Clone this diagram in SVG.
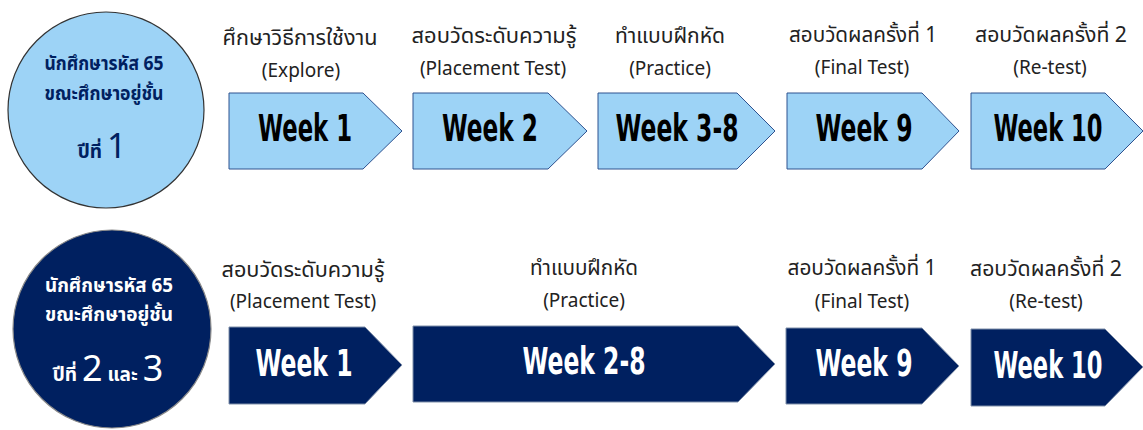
<svg xmlns="http://www.w3.org/2000/svg" width="1143" height="430" viewBox="0 0 1143 430">
<style>
.bg{fill:#ffffff}
.lt{fill:#9DD3F6;stroke:#2F528F;stroke-width:1}
.dk{fill:#002060;stroke:#7F8FA9;stroke-width:1}
.c1{fill:#9DD3F6;stroke:#333333;stroke-width:1.2}
.c2{fill:#002060;stroke:#8A8A8A;stroke-width:1.2}
.wk{font-family:"Liberation Sans Narrow","DejaVu Sans Condensed","Liberation Sans",sans-serif;font-weight:bold;font-size:37px;text-anchor:middle}
.wb{fill:#000000}
.ww{fill:#ffffff}
.lb{font-family:"Noto Sans Thai","Leelawadee UI","Tahoma","Noto Sans","DejaVu Sans",sans-serif;font-size:19px;fill:#222222;text-anchor:middle}
.th{font-size:21px}
.ct{font-family:"Noto Sans Thai","Leelawadee UI","Tahoma","Noto Sans","DejaVu Sans",sans-serif;font-weight:bold;font-size:19px;text-anchor:middle}
.cn{fill:#002060}
.cw{fill:#ffffff}
</style>
<rect class="bg" x="0" y="0" width="1143" height="430"/>

<g id="circle-year1">
<circle class="c1" cx="106" cy="110" r="98"/>
<text class="ct cn" x="104" y="70" textLength="119" lengthAdjust="spacingAndGlyphs">นักศึกษารหัส 65</text>
<text class="ct cn" x="104" y="100" textLength="119" lengthAdjust="spacingAndGlyphs">ขณะศึกษาอยู่ชั้น</text>
<text class="ct cn" x="102" y="158">ปีที่ <tspan font-size="34" font-weight="normal">1</tspan></text>
</g>

<g id="circle-year23">
<circle class="c2" cx="112" cy="329" r="99"/>
<text class="ct cw" x="109" y="292" textLength="128" lengthAdjust="spacingAndGlyphs">นักศึกษารหัส 65</text>
<text class="ct cw" x="109" y="321" textLength="128" lengthAdjust="spacingAndGlyphs">ขณะศึกษาอยู่ชั้น</text>
<text class="ct cw" x="108" y="381">ปีที่ <tspan font-size="36" font-weight="normal">2</tspan> และ <tspan font-size="36" font-weight="normal">3</tspan></text>
</g>

<g id="connectors"></g>

<g id="top-w1">
<polygon class="lt" points="229,93 363,93 402,131 363,169 229,169"/>
<text class="wk wb" x="305" y="141" textLength="94" lengthAdjust="spacingAndGlyphs">Week 1</text>
<text class="lb th" x="300" y="45" textLength="155" lengthAdjust="spacingAndGlyphs">ศึกษาวิธีการใช้งาน</text>
<text class="lb" x="301" y="77">(Explore)</text>
</g>
<g id="top-w2">
<polygon class="lt" points="413,93 548,93 587,131 548,169 413,169"/>
<text class="wk wb" x="490" y="141" textLength="96" lengthAdjust="spacingAndGlyphs">Week 2</text>
<text class="lb th" x="494" y="43" textLength="165" lengthAdjust="spacingAndGlyphs">สอบวัดระดับความรู้</text>
<text class="lb" x="493" y="75">(Placement Test)</text>
</g>
<g id="top-w3">
<polygon class="lt" points="598,93 737,93 775,131 737,169 598,169"/>
<text class="wk wb" x="677" y="141" textLength="123" lengthAdjust="spacingAndGlyphs">Week 3-8</text>
<text class="lb th" x="670" y="43" textLength="110" lengthAdjust="spacingAndGlyphs">ทำแบบฝึกหัด</text>
<text class="lb" x="670" y="75">(Practice)</text>
</g>
<g id="top-w9">
<polygon class="lt" points="787,93 922,93 959,131 922,169 787,169"/>
<text class="wk wb" x="864" y="141" textLength="97" lengthAdjust="spacingAndGlyphs">Week 9</text>
<text class="lb th" x="863" y="42" textLength="148" lengthAdjust="spacingAndGlyphs">สอบวัดผลครั้งที่ 1</text>
<text class="lb" x="862" y="74">(Final  Test)</text>
</g>
<g id="top-w10">
<polygon class="lt" points="971,93 1105,93 1143,131 1105,169 971,169"/>
<text class="wk wb" x="1048" y="141" textLength="109" lengthAdjust="spacingAndGlyphs">Week 10</text>
<text class="lb th" x="1051" y="42" textLength="152" lengthAdjust="spacingAndGlyphs">สอบวัดผลครั้งที่ 2</text>
<text class="lb" x="1050" y="74">(Re-test)</text>
</g>

<g id="bot-w1">
<polygon class="dk" points="229,327 365,327 402,365 365,404 229,404"/>
<text class="wk ww" x="304" y="376" textLength="97" lengthAdjust="spacingAndGlyphs">Week 1</text>
<text class="lb th" x="303" y="277" textLength="163" lengthAdjust="spacingAndGlyphs">สอบวัดระดับความรู้</text>
<text class="lb" x="303" y="308">(Placement Test)</text>
</g>
<g id="bot-w2">
<polygon class="dk" points="413,326 738,326 775,364 738,402 413,402"/>
<text class="wk ww" x="584" y="374" textLength="123" lengthAdjust="spacingAndGlyphs">Week 2-8</text>
<text class="lb th" x="584" y="275" textLength="108" lengthAdjust="spacingAndGlyphs">ทำแบบฝึกหัด</text>
<text class="lb" x="584" y="307">(Practice)</text>
</g>
<g id="bot-w9">
<polygon class="dk" points="786,328 922,328 959,366 922,404 786,404"/>
<text class="wk ww" x="864" y="376" textLength="97" lengthAdjust="spacingAndGlyphs">Week 9</text>
<text class="lb th" x="862" y="275" textLength="149" lengthAdjust="spacingAndGlyphs">สอบวัดผลครั้งที่ 1</text>
<text class="lb" x="862" y="308">(Final  Test)</text>
</g>
<g id="bot-w10">
<polygon class="dk" points="971,329 1105,329 1143,367 1105,406 971,406"/>
<text class="wk ww" x="1048" y="378" textLength="109" lengthAdjust="spacingAndGlyphs">Week 10</text>
<text class="lb th" x="1046" y="276" textLength="152" lengthAdjust="spacingAndGlyphs">สอบวัดผลครั้งที่ 2</text>
<text class="lb" x="1046" y="308">(Re-test)</text>
</g>
</svg>
